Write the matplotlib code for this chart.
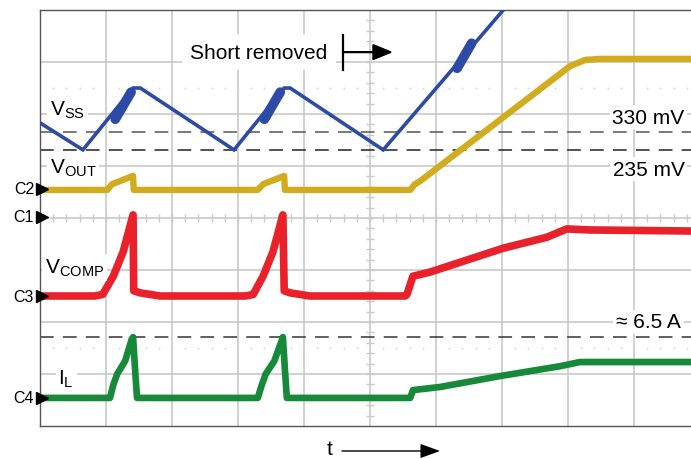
import numpy as np
import matplotlib
matplotlib.use('Agg')
import matplotlib.pyplot as plt

plt.rcParams['font.family'] = ['Liberation Sans', 'DejaVu Sans']
plt.rcParams['mathtext.fontset'] = 'custom'
plt.rcParams['mathtext.rm'] = 'Liberation Sans'
plt.rcParams['mathtext.it'] = 'Liberation Sans:italic'

# 파형 데이터 (단위: 화면 눈금, x = 0..9.86 div, y = 0..8 div)
vss_t = [0, 0.65, 1.41, 1.52, 2.94, 3.70, 3.79, 5.20, 7.02, 7.27]
vss_v = [5.83, 5.31, 6.50, 6.50, 5.31, 6.50, 6.50, 5.31, 8.00, 8.38]
# 스위칭 노이즈가 두껍게 보이는 구간
vss_burst_t = [[1.14, 1.38], [3.40, 3.64], [6.32, 6.54]]
vss_burst_v = [[5.90, 6.42], [5.90, 6.42], [6.88, 7.36]]

vout_t = [0, 1.02, 1.09, 1.41, 1.42, 3.30, 3.38, 3.70, 3.71, 5.61, 5.68, 5.76, 8.03, 8.26, 8.48, 9.86]
vout_v = [4.54, 4.54, 4.65, 4.81, 4.54, 4.54, 4.65, 4.81, 4.54, 4.54, 4.65, 4.71, 6.92, 7.04, 7.06, 7.06]

vcomp_t = [0, 0.83, 0.95, 1.11, 1.26, 1.41, 1.42, 1.52, 1.82, 3.11, 3.23, 3.38, 3.53, 3.68, 3.70,
           3.79, 4.09, 5.53, 5.56, 5.65, 5.91, 7.02, 7.68, 7.98, 8.33, 9.86]
vcomp_v = [2.50, 2.50, 2.53, 2.88, 3.35, 4.06, 2.60, 2.56, 2.50, 2.50, 2.53, 2.88, 3.35, 4.06, 2.60,
           2.56, 2.50, 2.50, 2.53, 2.88, 2.96, 3.42, 3.63, 3.79, 3.77, 3.75]

il_t = [0, 1.06, 1.11, 1.17, 1.29, 1.39, 1.41, 1.44, 1.47, 3.30, 3.36, 3.42, 3.55, 3.67, 3.68,
        3.71, 3.74, 5.61, 5.65, 6.06, 6.97, 7.88, 8.18, 9.86]
il_v = [0.54, 0.54, 0.79, 1.00, 1.25, 1.67, 1.71, 1.10, 0.54, 0.54, 0.79, 1.00, 1.25, 1.67, 1.71,
        1.10, 0.54, 0.54, 0.69, 0.75, 0.96, 1.15, 1.23, 1.23]

# 기준선 (330 mV, 235 mV, 6.5 A)
ref_levels = [5.65, 5.31, 1.71]
ref_colors = ['#555555', '#222222', '#333333']

channel_names = ['C2', 'C1', 'C3', 'C4']
channel_levels = [4.56, 4.02, 2.50, 0.54]

BLUE = '#2c4aa6'
GOLD = '#d2ac1f'
RED = '#e8212b'
GREEN = '#178a3a'
GRID = '#c9c9c9'

fig = plt.figure(figsize=(6.91, 4.60), dpi=100)
ax = fig.add_axes([40 / 691, 33 / 460, 651 / 691, 416 / 460])
ax.set_xlim(0, 651 / 66)
ax.set_ylim(0, 8)
ax.set_xticks([])
ax.set_yticks([])
for side in ['left', 'top', 'bottom']:
    ax.spines[side].set_color('#555555')
    ax.spines[side].set_linewidth(1.0)
ax.spines['right'].set_visible(False)

# 오실로스코프 그리드
for gx in range(1, 10):
    ax.axvline(gx, color=GRID, lw=1.2, zorder=0)
for gy in range(1, 8):
    ax.axhline(gy, color=GRID, lw=1.2, zorder=0)
tx = np.arange(0.2, 9.9, 0.2)
ax.vlines(tx, 4 - 0.08, 4 + 0.08, color=GRID, lw=1.0, zorder=0)
ty = np.arange(0.2, 8, 0.2)
ax.hlines(ty, 5 - 0.06, 5 + 0.06, color=GRID, lw=1.0, zorder=0)
for dy in [6.5, 1.5]:
    ax.plot(tx, np.full_like(tx, dy), ls='none', marker='s', ms=1.2, color='#d6d6d6', mew=0, zorder=0)

for lvl, c in zip(ref_levels, ref_colors):
    ax.axhline(lvl, color=c, lw=1.1, dashes=(9, 6), zorder=2)

# 파형
ax.plot(vss_t, vss_v, color=BLUE, lw=2.6, solid_joinstyle='miter', zorder=3)
for bt, bv in zip(vss_burst_t, vss_burst_v):
    ax.plot(bt, bv, color=BLUE, lw=7, solid_capstyle='round', zorder=3)
ax.plot(vout_t, vout_v, color=GOLD, lw=4.6, zorder=3)
ax.plot(vcomp_t, vcomp_v, color=RED, lw=5.5, zorder=3)
ax.plot(il_t, il_v, color=GREEN, lw=4.8, zorder=3)

# 라벨
box = dict(facecolor='white', edgecolor='none', pad=2)
ax.text(3.32, 7.19, 'Short removed', fontsize=15, ha='center', va='center',
        bbox=dict(facecolor='white', edgecolor='none', pad=6), zorder=4)
ax.plot([4.59, 4.59], [7.52, 6.85], color='black', lw=1.6, zorder=5)
ax.annotate('', xy=(5.35, 7.19), xytext=(4.59, 7.19),
            arrowprops=dict(arrowstyle='-|>,head_length=1.1,head_width=0.45', color='black', lw=1.6,
                            mutation_scale=11, shrinkA=0, shrinkB=0), zorder=5)

ax.text(9.22, 5.94, '330 mV', fontsize=15, ha='center', va='center', bbox=box, zorder=4)
ax.text(9.22, 4.94, '235 mV', fontsize=15, ha='center', va='center', bbox=box, zorder=4)
ax.text(9.22, 2.00, '≈ 6.5 A', fontsize=15, ha='center', va='center', bbox=box, zorder=4)

ax.text(0.15, 6.08, r'$\mathrm{V}_{\mathrm{SS}}$', fontsize=15, ha='left', va='center', bbox=box, zorder=4)
ax.text(0.15, 4.98, r'$\mathrm{V}_{\mathrm{OUT}}$', fontsize=15, ha='left', va='center', bbox=box, zorder=4)
ax.text(0.07, 3.05, r'$\mathrm{V}_{\mathrm{COMP}}$', fontsize=15, ha='left', va='center', bbox=box, zorder=4)
ax.text(0.28, 0.92, r'$\mathrm{I}_{\mathrm{L}}$', fontsize=15, ha='left', va='center', bbox=box, zorder=4)

for name, lvl in zip(channel_names, channel_levels):
    ax.text(-0.09, lvl, name, fontsize=11.5, ha='right', va='center', clip_on=False)
    ax.plot([0.03], [lvl], marker='>', ms=8, color='black', clip_on=False, zorder=6)

fig.text(330 / 691, 1 - 450 / 460, 't', fontsize=15, ha='center', va='center')
ax.annotate('', xy=(440 / 691, 1 - 452 / 460), xytext=(342 / 691, 1 - 452 / 460),
            xycoords='figure fraction', textcoords='figure fraction', annotation_clip=False,
            arrowprops=dict(arrowstyle='-|>,head_length=1.1,head_width=0.4', color='black', lw=1.0,
                            mutation_scale=11, shrinkA=0, shrinkB=0))

fig.savefig('out.png', dpi=100)
